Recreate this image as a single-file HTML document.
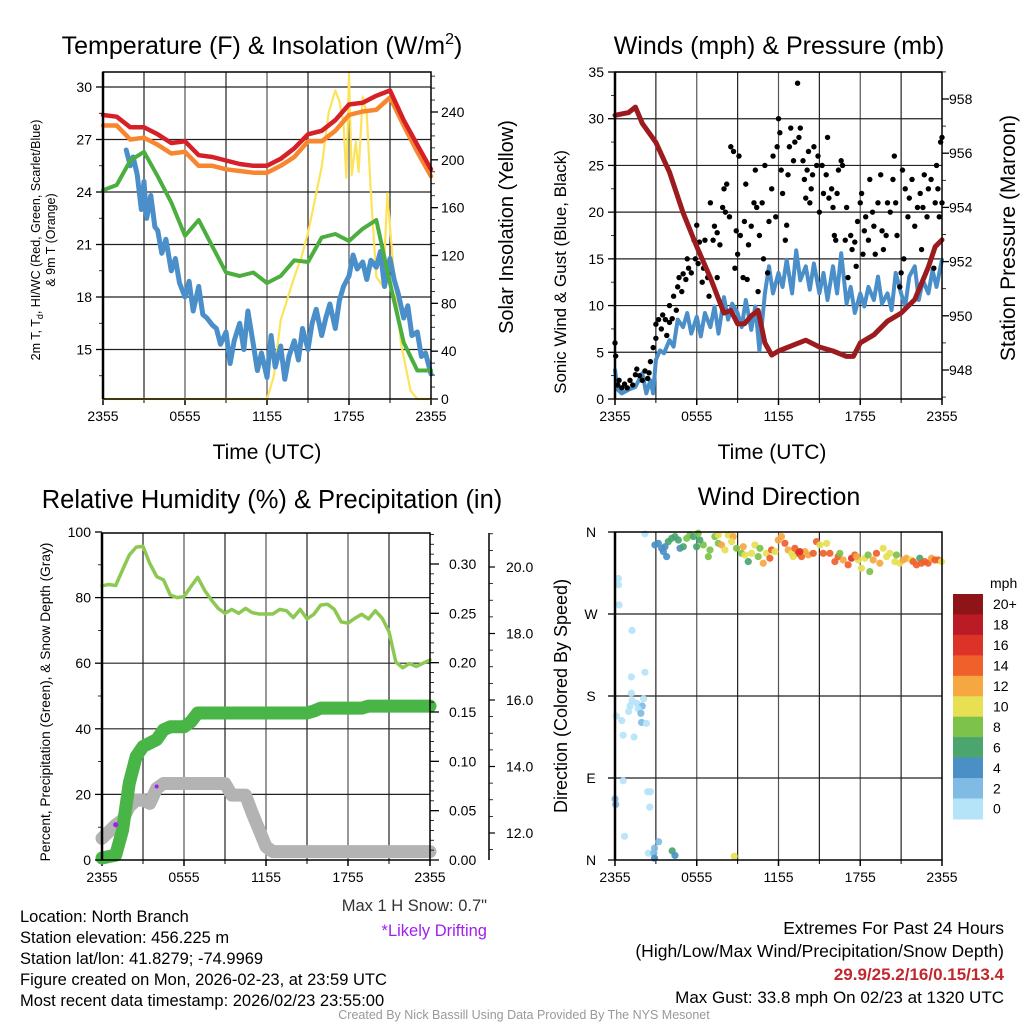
<!DOCTYPE html>
<html><head><meta charset="utf-8"><style>
html,body{margin:0;padding:0;background:#fff;}
svg{display:block;font-family:"Liberation Sans",Arial,sans-serif;}
</style></head><body>
<svg id="chart" width="1024" height="1024" viewBox="0 0 1024 1024" xmlns="http://www.w3.org/2000/svg">
<rect width="1024" height="1024" fill="#fff"/>
<g id="layer"></g>
</svg>
<script>
// ---------- Panel 1 data ----------
const tempHours = [0,1,2,3,4,5,6,7,8,9,10,11,12,13,14,15,16,17,18,19,20,21,22,23,24];
const redT = [28.4,28.3,27.7,27.7,27.3,26.8,26.9,26.1,26.0,25.8,25.6,25.5,25.5,25.9,26.5,27.3,27.5,28.1,29.0,29.1,29.5,29.8,28.1,26.7,25.3];
const orangeT = [27.8,27.8,27.0,27.1,26.7,26.2,26.3,25.5,25.5,25.3,25.2,25.1,25.1,25.5,26.0,26.9,26.9,27.5,28.4,28.6,28.7,29.4,27.8,26.3,24.9];
const greenT = [24.1,24.4,25.8,26.3,24.9,23.4,21.5,22.4,20.9,19.4,19.2,19.4,18.8,19.2,20.1,20.0,21.4,21.6,21.2,21.9,22.4,18.8,15.4,13.8,13.8];
const blueHours = [1.7,2.0,2.2,2.5,2.8,3.0,3.2,3.5,3.8,4.0,4.3,4.6,5.0,5.3,5.6,6.0,6.3,6.6,7.0,7.3,7.6,8.0,8.3,8.6,9.0,9.3,9.6,10.0,10.3,10.6,11.0,11.3,11.6,12.0,12.3,12.6,13.0,13.3,13.6,14.0,14.3,14.6,15.0,15.3,15.6,16.0,16.3,16.6,17.0,17.3,17.6,18.0,18.3,18.6,19.0,19.3,19.6,20.0,20.3,20.6,21.0,21.3,21.6,22.0,22.3,22.6,23.0,23.3,23.6,24.0];
const blueT = [26.4,25.5,26.0,25.0,23.0,24.6,22.5,23.8,22.0,21.8,20.5,21.3,19.5,20.2,18.8,18.0,18.9,17.2,18.6,17.0,16.8,16.4,16.2,15.3,16.0,14.2,15.5,16.5,15.0,17.2,15.3,13.8,14.8,13.4,15.8,14.0,15.2,13.3,14.6,15.5,14.4,16.2,15.0,16.5,17.3,15.8,16.8,17.6,16.2,17.8,18.6,19.2,20.4,19.6,20.0,19.0,20.1,19.7,20.6,18.6,20.2,19.0,18.2,16.8,17.5,15.8,16.0,14.6,14.8,13.6];
const solarHours = [0,12,12.5,13,14,14.5,15,16,16.5,17,17.3,17.6,17.8,17.9,18,18.2,18.5,18.7,19,19.3,19.6,20,20.5,20.8,21.2,21.8,22.5,23,24];
const solarW = [0,0,19,66,102,118,139,194,239,258,249,230,185,223,272,187,215,190,253,238,172,102,94,172,116,47,7,0,0];
const tempTicks = [15,18,21,24,27,30];
const solarTicks = [0,40,80,120,160,200,240];
const timeLabels = ["2355","0555","1155","1755","2355"];
// ---------- Panel 2 data ----------
const presHours = [0,1,1.5,2,3,4,5,6,7,8,8.5,9,9.5,10,10.5,11,11.5,12,13,14,15,16,17,17.5,18,19,20,21,22,23,23.5,24];
const presMb = [957.4,957.5,957.7,957.1,956.4,955.3,953.8,952.55,951.4,950.1,950.2,949.7,949.7,950.0,950.2,949.0,948.55,948.7,948.9,949.1,948.85,948.7,948.5,948.5,949.0,949.3,949.8,950.1,950.6,951.8,952.55,952.8];
const windHours = [0,0.2,0.5,1,1.5,2,2.3,2.6,2.8,3,3.3,3.6,4,4.3,4.6,5,5.3,5.6,6,6.3,6.6,7,7.3,7.6,8,8.3,8.6,9,9.3,9.6,10,10.3,10.6,11,11.3,11.6,12,12.3,12.6,13,13.3,13.6,14,14.3,14.6,15,15.3,15.6,16,16.3,16.6,17,17.3,17.6,18,18.3,18.6,19,19.3,19.6,20,20.3,20.6,21,21.3,21.6,22,22.3,22.6,23,23.3,23.6,24];
const windMph = [3.1,1.0,0.6,1.0,1.3,2.75,0.6,2.0,0.6,4.2,5.2,4.9,6.3,5.6,8.5,7.7,9.2,7.0,8.8,6.7,9.2,7.7,9.9,7.0,10.9,8.5,10.2,9.2,7.7,10.6,7.4,9.9,5.2,11.3,14.2,11.3,13.5,12.0,14.9,11.3,15.9,12.7,14.2,11.7,14.5,11.3,13.5,10.6,14.2,11.3,15.6,10.2,12.0,9.2,11.3,9.9,12.0,10.6,13.1,10.2,11.3,9.5,13.5,11.3,9.9,13.1,14.2,10.6,12.7,11.3,13.8,12.0,14.9];
const gustHours = [0,0.05,0.2,0.3,0.5,0.7,0.9,1.1,1.3,1.5,1.6,1.8,2.0,2.2,2.4,2.5,2.6,2.8,3.0,3.0,3.2,3.4,3.5,3.7,3.8,4.0,4.0,4.2,4.3,4.5,4.6,4.7,4.9,5.0,5.2,5.3,5.4,5.6,5.8,5.9,6.0,6.1,6.2,6.4,6.5,6.6,6.8,6.9,7.0,7.2,7.3,7.5,7.7,7.9,8.0,8.1,8.2,8.4,8.5,8.7,8.8,8.9,9.0,9.1,9.2,9.4,9.5,9.6,9.7,9.8,10.0,10.2,10.3,10.5,10.6,10.8,10.9,11.0,11.2,11.3,11.5,11.6,11.8,11.9,12.0,12.1,12.2,12.3,12.5,12.6,12.7,12.8,12.9,13.1,13.2,13.4,13.5,13.6,13.8,13.9,14.0,14.1,14.2,14.4,14.5,14.6,14.8,14.9,15.0,15.2,15.3,15.5,15.6,15.7,15.9,16.0,16.1,16.3,16.4,16.6,16.7,16.9,17.0,17.1,17.3,17.4,17.6,17.7,17.8,18.0,18.1,18.3,18.4,18.6,18.7,18.9,19.0,19.1,19.3,19.5,19.6,19.7,19.9,20.0,20.2,20.4,20.5,20.6,20.7,20.9,21.0,21.1,21.3,21.5,21.6,21.8,22.0,22.2,22.4,22.5,22.7,22.9,23.0,23.2,23.4,23.5,23.6,23.8,23.9,24.0,24.0,23.7,22.6,21.2,18.2,16.2,14.3,10.4,7.5];
const gustMph = [6.0,4.6,1.5,2.0,1.2,1.6,1.2,2.0,1.5,2.6,3.2,2.5,2.0,3.0,2.2,2.8,4.0,5.5,6.5,8.0,8.5,7.5,9.0,8.5,6.8,8.2,10.0,8.6,11.0,9.5,12.0,13.0,11.5,13.4,12.8,15.0,14.0,13.5,17.0,15.0,18.6,14.5,16.8,12.5,14.0,17.0,13.0,11.0,21.0,17.0,18.5,17.8,16.5,20.5,22.5,20.0,23.0,19.5,27.0,26.5,14.0,18.0,15.5,26.0,17.5,13.0,19.0,23.0,12.8,16.5,18.5,21.0,24.5,11.5,17.5,21.0,15.0,25.0,13.5,19.0,22.5,26.0,19.5,27.0,30.0,28.5,24.5,22.0,17.0,18.6,24.0,27.0,29.0,25.5,27.5,33.8,28.0,29.0,25.5,23.5,21.5,24.5,26.5,22.5,24.0,27.0,25.0,26.0,20.0,25.0,22.0,24.0,28.0,21.5,22.5,20.5,17.5,22.0,24.5,25.5,25.0,17.0,20.5,13.0,17.5,16.0,16.8,14.2,19.0,21.0,22.0,18.0,19.5,17.0,23.5,20.0,18.5,15.5,21.0,24.0,18.0,16.0,17.5,21.0,20.0,23.5,26.0,21.0,17.5,12.0,13.5,24.5,22.5,19.5,21.5,23.5,18.5,20.5,22.0,16.0,24.0,19.5,22.5,23.5,14.0,21.0,25.0,19.5,27.5,28.0,21.0,22.5,20.5,15.0,15.5,17.0,21.0,20.5,13.0];
const windTicks = [0,5,10,15,20,25,30,35];
const presTicks = [948,950,952,954,956,958];
// ---------- Panel 3 data ----------
const rhHours = [0,0.5,1,1.5,2,2.5,3,3.5,4,4.5,5,5.5,6,6.5,7,7.5,8,8.5,9,9.5,10,10.5,11,11.5,12,12.5,13,13.5,14,14.5,15,15.5,16,16.5,17,17.5,18,18.5,19,19.5,20,20.5,21,21.5,22,22.5,23,23.5,24];
const rhPct = [83.6,84,83.7,88.4,93,95.4,95.6,90.4,86.4,85.4,80.8,80.0,80.3,83.3,86.2,82.3,79.3,76.7,75.2,76.4,75.2,76.7,75.4,75.0,75.0,75.0,76.4,76.0,73.9,76.4,73.5,74.9,77.7,78.0,76.4,72.6,72.2,73.7,74.9,73.5,76.0,73.7,69.6,60.4,58.6,59.9,59.0,60.0,61.0];
const precipHours = [0,1,1.5,2,2.5,3,4,4.5,5,6,6.5,7,8,15,15.5,16,19,19.5,24];
const precipIn = [0.002,0.005,0.03,0.078,0.105,0.115,0.122,0.132,0.135,0.135,0.140,0.149,0.149,0.149,0.151,0.154,0.154,0.156,0.156];
const snowHours = [0,0.5,1,1.5,2,2.5,3,3.5,4,4.5,9,9.5,10.5,11,11.5,12,12.5,24];
const snowIn = [11.84,12.04,12.24,12.39,12.79,12.99,12.99,12.89,13.34,13.49,13.49,13.14,13.14,12.59,12.09,11.59,11.44,11.44];
const driftHours = [1.0,4.0];
const driftSnow = [12.25,13.4];
const rhTicks = [0,20,40,60,80,100];
const precipTicks = [0.00,0.05,0.10,0.15,0.20,0.25,0.30];
const snowTicks = [12,14,16,18,20];
// ---------- Panel 4 data ----------
const dirHours = [0.25,0.25,0.3,1.25,1.2,2.2,1.2,2.1,1.25,1.6,1.1,2.0,1.0,1.7,1.9,0.1,0.5,1.95,2.3,0.6,1.4,0.6,2.4,2.6,0.0,0.05,2.55,0.7,2.9,3.2,2.45,2.85,2.9,4.2,4.4,8.75,2.2,
2.93,3.18,3.42,3.55,3.79,3.67,3.91,4.16,4.40,4.65,4.77,5.01,5.26,5.50,5.75,5.99,6.11,6.48,6.85,6.97,7.33,7.58,7.82,8.07,8.31,8.68,8.56,8.92,9.29,9.54,9.78,10.02,10.27,10.51,10.88,11.12,11.37,11.49,11.74,11.98,12.22,12.47,12.71,12.96,13.20,13.45,13.69,13.94,14.18,14.55,14.79,15.04,15.28,15.53,15.77,16.14,16.38,16.75,17.11,17.36,17.60,17.85,18.09,18.34,18.58,18.70,18.95,19.19,19.44,19.68,19.93,20.17,20.54,20.66,20.90,21.15,21.39,21.76,21.88,22.13,22.37,22.49,22.74,22.98,23.23,23.47,23.72,23.96,17.73,16.50,13.57,13.08,10.64,9.41,7.58,6.23];
const dirDeg = [309,302,280,252,201,206,183,177,175,172,169,169,163,166,161,158,153,151,150,137,135,87,75,75,67,61,58,26,13,20,7.5,7.5,2,10,5,4,358,
345.8,347.6,342.1,338.5,333,343.9,349.4,353,355,351.2,342.1,343.9,353,356.7,355,343.9,358.6,345.8,333,340.3,355,347.6,345.8,340.3,356.7,355,349.4,342.1,336.6,334.8,327.5,336.6,345.8,333,325.7,336.6,331.2,340.3,338.5,351.2,355,347.6,340.3,336.6,342.1,336.6,333,338.5,334.8,336.6,349.4,345.8,336.6,347.6,336.6,327.5,333,329.3,323.9,331.2,334.8,329.3,320.2,331.2,334.8,316.6,329.3,336.6,325.7,342.1,333,336.6,327.5,334.8,325.7,329.3,331.2,329.3,327.5,323.9,331.2,325.7,327.5,325.7,331.2,329.3,329.3,327.5,333,336.6,338.5,333,342.1,343.9,356.7,351.2];
const dirSpd = [1,1,1,1,1,1,1,1,1,1,1,3,1,1,3,1,1,3,1,1,1,1,1,1,3,3,1,1,3,3,1,3,5,7,5,10,1,
4,4,4,4,4,5,6,7,7,6,5,7,8,8,7,7,8,8,8,9,8,9,12,10,11,12,11,8,9,10,7,10,10,8,12,11,14,14,10,13,13,15,13,11,14,17,14,12,13,15,14,10,15,11,14,15,14,13,15,16,14,11,10,10,9,8,12,14,12,10,11,10,10,8,10,12,12,11,15,15,7,14,14,15,13,15,14,10,12,9,16,10,9,12,11,7];
const speedBins = ["20+","18","16","14","12","10","8","6","4","2","0"];
const dirTicks = ["N","E","S","W","N"];
</script>
<script>
const NS = "http://www.w3.org/2000/svg";
const layer = document.getElementById('layer');
function mk(tag, attrs, parent){
  const e = document.createElementNS(NS, tag);
  for (const k in attrs) e.setAttribute(k, attrs[k]);
  (parent||layer).appendChild(e);
  return e;
}
function txt(s, x, y, opts, parent){
  const t = mk('text', Object.assign({x:x, y:y, 'font-size':14, fill:'#000'}, opts||{}), parent);
  t.textContent = s;
  return t;
}
function lin(d0,d1,r0,r1){ return v => r0 + (v-d0)*(r1-r0)/(d1-d0); }
function pathOf(xs, ys, fx, fy){
  let d = '';
  for (let i=0;i<xs.length;i++) d += (i?'L':'M') + fx(xs[i]).toFixed(1) + ',' + fy(ys[i]).toFixed(1);
  return d;
}
function frame(g, x0,y0,x1,y1){
  const fx = lin(0,24,x0,x1);
  for (let h=3; h<24; h+=3){
    const l = mk('line',{x1:fx(h),x2:fx(h),y1:y0,y2:y1,stroke:(h%6===0?'#555':'#222'),'stroke-width':1.2},g);
    
    
  }
  for (let i=0;i<5;i++){
    const h=i*6;
    const tk = mk('line',{x1:fx(h),x2:fx(h),y1:y1,y2:y1+6,stroke:'#000','stroke-width':1.5},g);
    
    
    const lb = txt(timeLabels[i], fx(h), y1+22, {'text-anchor':'middle','font-size':14}, g);
    
    
  }
  for (let h=3; h<24; h+=6){
    const tk = mk('line',{x1:fx(h),x2:fx(h),y1:y1,y2:y1+4,stroke:'#000','stroke-width':1},g);
    
    
  }
  return fx;
}
function hgrid(g, ys, x0, x1){
  ys.forEach(y=>{
    const l = mk('line',{x1:x0,x2:x1,y1:y,y2:y,stroke:'#222','stroke-width':1.2},g);
    
    
  });
}
function border(g,x0,y0,x1,y1){
  const r = mk('rect',{x:x0,y:y0,width:x1-x0,height:y1-y0,fill:'none',stroke:'#000','stroke-width':1.5},g);
  
  
  const l = mk('line',{x1:x0,x2:x0,y1:y0,y2:y1,stroke:'#000','stroke-width':2.5},g);
  
  
}
function series(g, xs, ys, fx, fy, color, w, name){
  const p = mk('path',{d:pathOf(xs,ys,fx,fy),fill:'none',stroke:color,'stroke-width':w,'stroke-linejoin':'round','stroke-linecap':'round'},g);
  
  
  return p;
}
function leftTicks(g, ticks, fy, x0, fmt){
  ticks.forEach(v=>{
    const y = fy(v);
    const t = mk('line',{x1:x0-7,x2:x0,y1:y,y2:y,stroke:'#000','stroke-width':1.3},g);
    
    
    const l = txt(fmt(v), x0-11, y+5, {'text-anchor':'end','font-size':14}, g);
    
    
  });
}
function minorTicks(g, from, to, step, fy, x, dir, ylo, yhi){
  for (let v=from; v<=to+1e-9; v+=step){
    const y=fy(v); if (y<ylo-0.5||y>yhi+0.5) continue;
    const t = mk('line',{x1:x,x2:x+dir*4,y1:y,y2:y,stroke:'#000','stroke-width':0.8},g);
    
    
  }
}

// ================= PANEL 1 =================
(function(){
  const g = mk('g',{});
  
  
  const x0=103,y0=72,x1=431,y1=399;
  const fy = lin(30,15,87,349.5);
  const fs = lin(0,240,399,112);
  const fx = frame(g,x0,y0,x1,y1);
  hgrid(g, tempTicks.map(fy), x0, x1);
  series(g, solarHours, solarW, fx, fs, '#fce35a', 2.2, 'solar-insolation-line');
  series(g, blueHours, blueT, fx, fy, '#4a8fc9', 5, 'wind-chill-line');
  series(g, tempHours, greenT, fx, fy, '#4bae3f', 4, 'dewpoint-line');
  series(g, tempHours, orangeT, fx, fy, '#f7862f', 4.5, 'temp-9m-line');
  series(g, tempHours, redT, fx, fy, '#d62027', 4.5, 'temp-2m-line');
  border(g,x0,y0,x1,y1);
  leftTicks(g, tempTicks, fy, x0, v=>String(v));
  minorTicks(g, 13.5, 30, 3, fy, x0, -1, y0, y1);
  solarTicks.forEach(v=>{
    const y=fs(v);
    const t = mk('line',{x1:x1,x2:x1+7,y1:y,y2:y,stroke:'#000','stroke-width':1.3},g);
    
    
    const l = txt(String(v), x1+10, y+5, {'font-size':14}, g);
    
    
  });
  minorTicks(g, 0, 270, 10, fs, x1, 1, y0, y1);
  const ti = txt('Temperature (F) & Insolation (W/m', 262, 54, {'text-anchor':'middle','font-size':25}, g);
  const sup = mk('tspan',{dy:-10,'font-size':16},ti); sup.textContent='2';
  const cl = mk('tspan',{dy:10},ti); cl.textContent=')';
  
  
  const xt = txt('Time (UTC)', 267, 459, {'text-anchor':'middle','font-size':21}, g);
  
  
  const yt = txt('', 0, 0, {'text-anchor':'middle','font-size':12.5,transform:'translate(40,240) rotate(-90)'}, g);
  yt.innerHTML = '2m T, T<tspan font-size="9" dy="3">d</tspan><tspan dy="-3">, HI/WC (Red, Green, Scarlet/Blue)</tspan>';
  
  
  const yt2 = txt('& 9m T (Orange)', 0, 0, {'text-anchor':'middle','font-size':12.5,transform:'translate(55,240) rotate(-90)'}, g);
  
  
  const rt = txt('Solar Insolation (Yellow)', 0, 0, {'text-anchor':'middle','font-size':20,transform:'translate(513,227) rotate(-90)'}, g);
  
  
})();

// ================= PANEL 2 =================
(function(){
  const g = mk('g',{});
  
  
  const x0=615,y0=72,x1=942,y1=399;
  const fy = lin(0,35,399,72);
  const fp = lin(948,958,370,99);
  const fx = frame(g,x0,y0,x1,y1);
  hgrid(g, windTicks.slice(1).map(fy), x0, x1);
  series(g, windHours, windMph, fx, fy, '#4a8fc9', 4, 'sonic-wind-line');
  for (let i=0;i<gustHours.length;i++){
    const c = mk('circle',{cx:fx(gustHours[i]),cy:fy(gustMph[i]),r:2.7,fill:'#000'},g);
    
    
  }
  series(g, presHours, presMb, fx, fp, '#9b1b1e', 5, 'pressure-line');
  border(g,x0,y0,x1,y1);
  leftTicks(g, windTicks, fy, x0, v=>String(v));
  minorTicks(g, 2.5, 35, 5, fy, x0, -1, y0, y1);
  presTicks.forEach(v=>{
    const y=fp(v);
    const t = mk('line',{x1:x1,x2:x1+7,y1:y,y2:y,stroke:'#000','stroke-width':1.3},g);
    
    
    const l = txt(String(v), x1+7, y+5, {'font-size':14}, g);
    
    
  });
  minorTicks(g, 947, 959, 1, fp, x1, 1, y0, y1);
  const ti = txt('Winds (mph) & Pressure (mb)', 779, 54, {'text-anchor':'middle','font-size':25}, g);
  
  
  const xt = txt('Time (UTC)', 772, 459, {'text-anchor':'middle','font-size':21}, g);
  
  
  const yt = txt('Sonic Wind & Gust (Blue, Black)', 0, 0, {'text-anchor':'middle','font-size':17,transform:'translate(566,272) rotate(-90)'}, g);
  
  
  const rt = txt('Station Pressure (Maroon)', 0, 0, {'text-anchor':'middle','font-size':21,transform:'translate(1015,238) rotate(-90)'}, g);
  
  
})();

// ================= PANEL 3 =================
(function(){
  const g = mk('g',{});
  
  
  const x0=102,y0=533,x1=430,y1=860;
  const fy = lin(0,100,860,532);
  const fpr = lin(0,0.30,860,564);
  const fsn = lin(12,20,833,567);
  const fx = frame(g,x0,y0,x1,y1);
  hgrid(g, [20,40,60,80].map(fy), x0, x1);
  series(g, snowHours, snowIn, fx, fsn, '#b3b3b3', 13, 'snow-depth-line');
  series(g, precipHours, precipIn, fx, fpr, '#49b547', 13, 'precipitation-line');
  series(g, rhHours, rhPct, fx, fy, '#8dc853', 3.5, 'relative-humidity-line');
  for (let i=0;i<driftHours.length;i++){
    const c = mk('circle',{cx:fx(driftHours[i]),cy:fsn(driftSnow[i]),r:i===0?2.6:2,fill:'#a020f0'},g);
    
    
  }
  border(g,x0,y0,x1,y1);
  leftTicks(g, rhTicks, fy, x0, v=>String(v));
  minorTicks(g, 10, 90, 20, fy, x0, -1, y0, y1);
  precipTicks.forEach(v=>{
    const y=fpr(v);
    const t = mk('line',{x1:x1,x2:x1+9,y1:y,y2:y,stroke:'#000','stroke-width':1.3},g);
    
    
    const l = txt(v.toFixed(2), x1+19, y+5, {'font-size':14}, g);
    
    
  });
  minorTicks(g, 0, 0.33, 0.01, fpr, x1, 1, y0, y1);
  const sa = mk('line',{x1:489,x2:489,y1:y0,y2:y1,stroke:'#000','stroke-width':1.5},g);
  
  
  snowTicks.forEach(v=>{
    const y=fsn(v);
    const t = mk('line',{x1:489,x2:495,y1:y,y2:y,stroke:'#000','stroke-width':1.2},g);
    
    
    const l = txt(v.toFixed(1), 506, y+5, {'font-size':14}, g);
    
    
  });
  minorTicks(g, 11, 21, 0.5, fsn, 489, 1, y0, y1);
  const ti = txt('Relative Humidity (%) & Precipitation (in)', 272, 508, {'text-anchor':'middle','font-size':25.5}, g);
  
  
  const yt = txt('Percent, Precipitation (Green), & Snow Depth (Gray)', 0, 0, {'text-anchor':'middle','font-size':13.7,transform:'translate(50,702) rotate(-90)'}, g);
  
  
  const ms = txt('Max 1 H Snow: 0.7"', 487, 911, {'text-anchor':'end','font-size':16.5,fill:'#333'}, g);
  
  
  const dr = txt('*Likely Drifting', 487, 936, {'text-anchor':'end','font-size':16.5,fill:'#a020f0'}, g);
  
  
})();

// ================= PANEL 4 =================
(function(){
  const g = mk('g',{});
  
  
  const x0=615,y0=532,x1=942,y1=860;
  const fy = lin(0,360,860,532);
  const fx = frame(g,x0,y0,x1,y1);
  hgrid(g, [90,180,270].map(fy), x0, x1);
  const cols = ['#b5e3f7','#7fbbe3','#4a8fc5','#4aa56e','#7dc24a','#e6e052','#f5a742','#f0602a','#dd3227','#bb1b24','#8f1418'];
  function colFor(s){ let i=Math.floor(s/2); if(i>10)i=10; if(i<0)i=0; return cols[i]; }
  for (let i=0;i<dirHours.length;i++){
    const c = mk('circle',{cx:fx(dirHours[i]),cy:fy(dirDeg[i]),r:3.6,fill:colFor(dirSpd[i]),opacity:0.92},g);
    
    
  }
  border(g,x0,y0,x1,y1);
  dirTicks.forEach((lab,i)=>{
    const y=fy(i*90);
    const t = mk('line',{x1:x0-7,x2:x0,y1:y,y2:y,stroke:'#000','stroke-width':1.3},g);
    
    
    const l = txt(lab, 591, y+5, {'text-anchor':'middle','font-size':14}, g);
    
    
  });
  const ti = txt('Wind Direction', 779, 505, {'text-anchor':'middle','font-size':25}, g);
  
  
  const yt = txt('Direction (Colored By Speed)', 0, 0, {'text-anchor':'middle','font-size':18,transform:'translate(567,696) rotate(-90)'}, g);
  
  
  const segH = 20.45;
  speedBins.forEach((lab,i)=>{
    const r = mk('rect',{x:953,y:594+i*segH,width:30,height:segH+0.5,fill:cols[10-i]},g);
    
    
    const l = txt(lab, 993, 594+i*segH+segH/2+5, {'font-size':14}, g);
    
    
  });
  const mph = txt('mph', 990, 588, {'font-size':14}, g);
  
  
})();

// ================= FOOTER =================
(function(){
  const g = mk('g',{});
  
  
  const left = ['Location: North Branch','Station elevation: 456.225 m','Station lat/lon: 41.8279; -74.9969','Figure created on Mon, 2026-02-23, at 23:59 UTC','Most recent data timestamp: 2026/02/23 23:55:00'];
  left.forEach((s,i)=>{
    const t = txt(s, 20, 922+i*21, {'font-size':16.5}, g);
    
    
  });
  const a = txt('Extremes For Past 24 Hours', 1004, 934, {'text-anchor':'end','font-size':17.5}, g);
  
  
  const b = txt('(High/Low/Max Wind/Precipitation/Snow Depth)', 1004, 957, {'text-anchor':'end','font-size':17.5}, g);
  
  
  const c = txt('29.9/25.2/16/0.15/13.4', 1004, 980, {'text-anchor':'end','font-size':17,'font-weight':'bold',fill:'#c1272d'}, g);
  
  
  const d = txt('Max Gust: 33.8 mph On 02/23 at 1320 UTC', 1004, 1003, {'text-anchor':'end','font-size':17}, g);
  
  
  const e = txt('Created By Nick Bassill Using Data Provided By The NYS Mesonet', 524, 1019, {'text-anchor':'middle','font-size':12.5,fill:'#999'}, g);
  
  
})();
</script>
</body></html>
